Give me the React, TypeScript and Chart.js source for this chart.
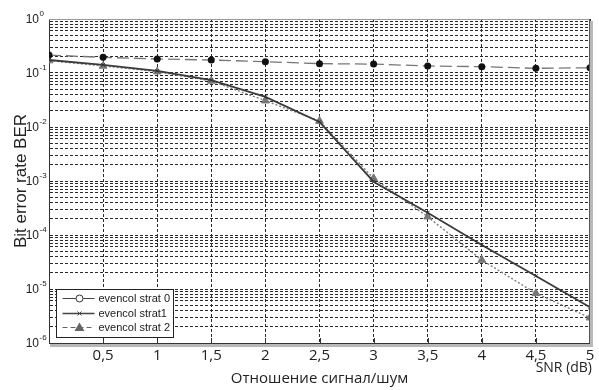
import React, { useEffect, useRef } from 'react';
import { Chart, registerables } from 'chart.js';

Chart.register(...registerables);

// ---------- data ----------
const snr = [0, 0.5, 1, 1.5, 2, 2.5, 3, 3.5, 4, 4.5, 5];
const xTickLabels = ['', '0,5', '1', '1,5', '2', '2,5', '3', '3,5', '4', '4,5', '5'];
const yExponents = [0, -1, -2, -3, -4, -5, -6];
const yMantissas = [1, 2, 3, 4, 5, 6, 7, 8, 9];
const seriesLabels = ['evencol strat 0', 'evencol strat1', 'evencol strat 2'];
const strat0 = [0.215, 0.195, 0.182, 0.174, 0.162, 0.149, 0.146, 0.135, 0.131, 0.122, 0.125];
const strat1 = [0.174, 0.141, 0.109, 0.074, 0.036, 0.0124, 0.00097, 0.000259, 0.0000653, 0.0000174, 0.00000458];
const strat2 = [0.17, 0.135, 0.106, 0.0711, 0.0307, 0.0129, 0.00112, 0.000218, 0.0000344, 0.0000083, 0.00000294];
const yTitle = 'Bit error rate BER';
const xTitle = 'Отношение сигнал/шум';
const xUnit = 'SNR (dB)';

const yTickValues: number[] = [];
yExponents.forEach((e) => {
  if (e === 0) {
    yTickValues.push(1);
  } else {
    yMantissas.forEach((m) => yTickValues.push(Number((m * Math.pow(10, e)).toPrecision(3))));
  }
});

const decorPlugin = {
  id: 'decor',
  beforeDraw(chart: any) {
    const { ctx, width, height } = chart;
    ctx.save();
    ctx.fillStyle = '#ffffff';
    ctx.fillRect(0, 0, width, height);
    ctx.restore();
  },
  afterDraw(chart: any) {
    const { ctx, chartArea } = chart;
    const { left, right, top, bottom } = chartArea;
    const xs = chart.scales.x;
    const ys = chart.scales.y;
    ctx.save();

    // frame: top & right border, shadow
    ctx.strokeStyle = '#9a9a9a';
    ctx.lineWidth = 1;
    ctx.beginPath();
    ctx.moveTo(left, Math.round(top) + 0.5);
    ctx.lineTo(right, Math.round(top) + 0.5);
    ctx.stroke();
    ctx.strokeStyle = '#555';
    ctx.beginPath();
    ctx.moveTo(Math.round(right) - 0.5, top);
    ctx.lineTo(Math.round(right) - 0.5, bottom);
    ctx.stroke();
    ctx.fillStyle = '#b8b8b8';
    ctx.fillRect(Math.round(right), top + 2, 3, bottom - top + 1);
    ctx.fillRect(left + 1, Math.round(bottom) + 1, right - left + 2, 3);

    // inward x tick marks
    ctx.strokeStyle = '#333';
    ctx.lineWidth = 1;
    xs.ticks.forEach((t: any) => {
      const px = Math.round(xs.getPixelForValue(t.value)) + 0.5;
      if (t.value <= 0 || t.value >= 5) return;
      ctx.beginPath();
      ctx.moveTo(px, bottom);
      ctx.lineTo(px, bottom - 5);
      ctx.stroke();
    });

    // y tick labels 10^e
    ctx.fillStyle = '#222';
    yExponents.forEach((e) => {
      const py = ys.getPixelForValue(Math.pow(10, e));
      ctx.font = '12px "Liberation Sans Narrow", "Liberation Sans", Arial, sans-serif';
      ctx.textAlign = 'right';
      ctx.textBaseline = 'middle';
      ctx.fillText('10', 39, py + 1);
      ctx.font = '8px "Liberation Sans", Arial, sans-serif';
      ctx.textAlign = 'left';
      ctx.fillText(String(e), 39.5, py - 5);
    });

    // y title
    ctx.save();
    ctx.translate(21, (top + bottom) / 2);
    ctx.rotate(-Math.PI / 2);
    ctx.font = '17px "Liberation Sans", Arial, sans-serif';
    ctx.textAlign = 'center';
    ctx.textBaseline = 'middle';
    ctx.fillStyle = '#222';
    ctx.fillText(yTitle, 0, 0);
    ctx.restore();

    // x titles
    ctx.font = '15px "Open Sans", sans-serif';
    ctx.textAlign = 'center';
    ctx.textBaseline = 'middle';
    ctx.fillStyle = '#222';
    ctx.fillText(xTitle, (left + right) / 2, 379);
    ctx.font = '14px "Open Sans", sans-serif';
    ctx.textAlign = 'right';
    ctx.fillText(xUnit, 592, 368);

    // legend
    const bx = left + 7.5;
    const by = bottom - 53.5;
    const bw = 117;
    const bh = 48;
    ctx.fillStyle = '#ffffff';
    ctx.fillRect(bx, by, bw, bh);
    ctx.strokeStyle = '#222';
    ctx.lineWidth = 1;
    ctx.strokeRect(bx, by, bw, bh);
    const rows = [by + 9, by + 24, by + 38];
    const lx0 = bx + 6;
    const lx1 = bx + 38;
    const mx = bx + 23;
    ctx.font = '11px "Liberation Sans", Arial, sans-serif';
    ctx.textAlign = 'left';
    ctx.textBaseline = 'middle';
    rows.forEach((ry, i) => {
      ctx.save();
      ctx.strokeStyle = i === 2 ? '#666' : '#444';
      ctx.lineWidth = i === 1 ? 1.6 : 1.2;
      ctx.setLineDash(i === 2 ? [5, 3] : []);
      ctx.beginPath();
      ctx.moveTo(lx0, ry);
      ctx.lineTo(lx1, ry);
      ctx.stroke();
      ctx.restore();
      if (i === 0) {
        ctx.beginPath();
        ctx.arc(mx, ry, 3.5, 0, Math.PI * 2);
        ctx.fillStyle = '#fff';
        ctx.fill();
        ctx.strokeStyle = '#333';
        ctx.lineWidth = 1;
        ctx.stroke();
      } else if (i === 1) {
        ctx.strokeStyle = '#444';
        ctx.lineWidth = 1;
        ctx.beginPath();
        ctx.moveTo(mx - 2, ry - 2);
        ctx.lineTo(mx + 2, ry + 2);
        ctx.moveTo(mx + 2, ry - 2);
        ctx.lineTo(mx - 2, ry + 2);
        ctx.stroke();
      } else {
        ctx.fillStyle = '#666';
        ctx.beginPath();
        ctx.moveTo(mx, ry - 5);
        ctx.lineTo(mx + 5, ry + 3.5);
        ctx.lineTo(mx - 5, ry + 3.5);
        ctx.closePath();
        ctx.fill();
      }
      ctx.fillStyle = '#222';
      ctx.fillText(chart.data.datasets[i].label, lx1 + 4, ry + 0.5);
    });

    ctx.restore();
  },
};

export default function App() {
  const canvasRef = useRef<HTMLCanvasElement | null>(null);

  useEffect(() => {
    if (!canvasRef.current) return;
    const toPts = (arr: number[]) => arr.map((v, i) => ({ x: snr[i], y: v }));
    const chart = new Chart(canvasRef.current, {
      type: 'line',
      data: {
        datasets: [
          {
            label: seriesLabels[0],
            data: toPts(strat0),
            borderColor: '#777',
            borderWidth: 1.3,
            borderDash: [12, 5],
            pointStyle: 'circle',
            pointRadius: 3.5,
            pointBackgroundColor: '#111',
            pointBorderColor: '#111',
            pointBorderWidth: 0,
            tension: 0,
          },
          {
            label: seriesLabels[1],
            data: toPts(strat1),
            borderColor: '#3a3a3a',
            borderWidth: 1.8,
            pointStyle: 'crossRot',
            pointRadius: 2.5,
            pointBorderColor: '#333',
            pointBorderWidth: 1,
            tension: 0,
          },
          {
            label: seriesLabels[2],
            data: toPts(strat2),
            borderColor: '#808080',
            borderWidth: 1.4,
            borderDash: [2, 2],
            pointStyle: 'triangle',
            pointRadius: 4.5,
            pointBackgroundColor: '#777',
            pointBorderColor: '#777',
            pointBorderWidth: 1,
            tension: 0,
          },
        ],
      },
      options: {
        responsive: false,
        animation: false,
        events: [],
        layout: { padding: { left: 0, top: 19, right: 9, bottom: 0 } },
        plugins: {
          legend: { display: false },
          tooltip: { enabled: false },
        },
        scales: {
          x: {
            type: 'linear',
            min: 0,
            max: 5,
            afterFit: (s: any) => {
              s.height = 47;
            },
            ticks: {
              stepSize: 0.5,
              padding: 4,
              maxRotation: 0,
              autoSkip: false,
              color: '#222',
              font: { family: '"Open Sans", sans-serif', size: 15 },
              callback: (_v: any, i: number) => xTickLabels[i],
            },
            grid: { color: '#2a2a2a', lineWidth: 1, drawTicks: false },
            border: { display: true, color: '#333', width: 1, dash: [3, 2] },
          },
          y: {
            type: 'logarithmic',
            min: 1e-6,
            max: 1,
            afterFit: (s: any) => {
              s.width = 49;
            },
            afterBuildTicks: (s: any) => {
              s.ticks = yTickValues.map((v) => ({ value: v }));
            },
            ticks: { display: false },
            grid: { color: '#2a2a2a', lineWidth: 1, drawTicks: false },
            border: { display: true, color: '#333', width: 1, dash: [3, 2] },
          },
        },
      },
      plugins: [decorPlugin],
    });
    return () => chart.destroy();
  }, []);

  return (
    <div style={{ position: 'fixed', left: 0, top: 0, width: 599, height: 390, background: '#fff' }}>
      <canvas ref={canvasRef} width={599} height={390} style={{ display: 'block' }} />
    </div>
  );
}
